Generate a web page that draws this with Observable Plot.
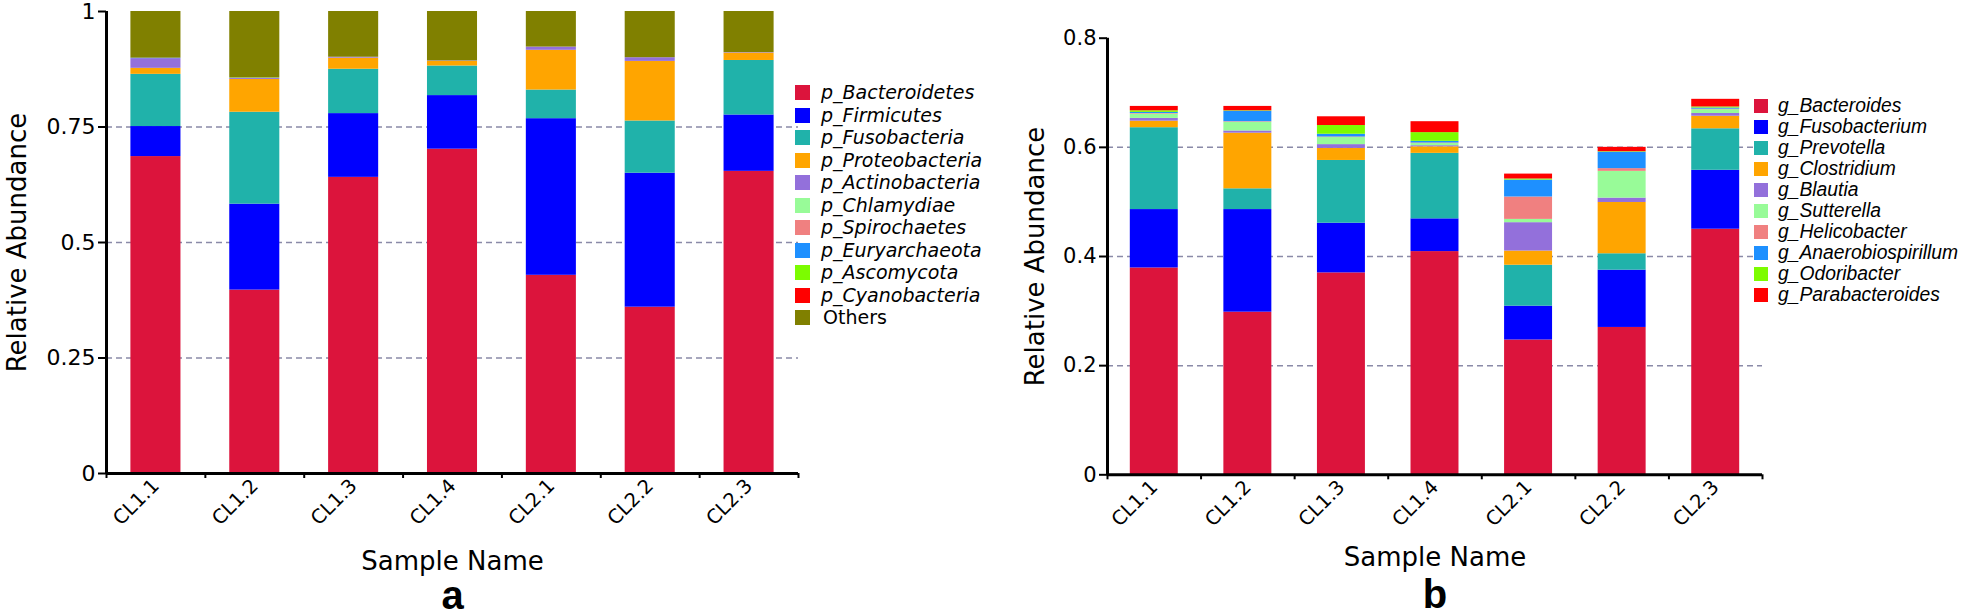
<!DOCTYPE html>
<html><head><meta charset="utf-8">
<script src="https://cdn.jsdelivr.net/npm/d3@7"></script>
<script src="https://cdn.jsdelivr.net/npm/@observablehq/plot@0.6"></script>
<style>
body{margin:0;background:#fff;}
#root{position:relative;width:1961px;height:615px;overflow:hidden;background:#fff;}
.panel{position:absolute;top:0;}
.row{position:absolute;display:flex;align-items:center;white-space:nowrap;color:#000;}
.sw{flex:none;}
.lt{display:inline-block;overflow:visible;}
</style></head><body><div id="root"></div>
<script>
// ---------- data ----------
const samples = ["CL1.1","CL1.2","CL1.3","CL1.4","CL2.1","CL2.2","CL2.3"];

// panel a : phylum level
const phyla = ["p_Bacteroidetes","p_Firmicutes","p_Fusobacteria","p_Proteobacteria","p_Actinobacteria","p_Chlamydiae","p_Spirochaetes","p_Euryarchaeota","p_Ascomycota","p_Cyanobacteria","Others"];
const phylumColors = ["#DC143C","#0000FF","#20B2AA","#FFA500","#9370DB","#98FB98","#F08080","#1E90FF","#7CFC00","#FF0000","#808000"];
const p_Bacteroidetes  = [0.686,0.397,0.641,0.702,0.429,0.360,0.654];
const p_Firmicutes     = [0.065,0.186,0.138,0.116,0.339,0.290,0.122];
const p_Fusobacteria   = [0.113,0.199,0.096,0.064,0.062,0.113,0.118];
const p_Proteobacteria = [0.013,0.071,0.024,0.010,0.086,0.129,0.016];
const p_Actinobacteria = [0.021,0.002,0.002,0.001,0.007,0.008,0.001];
const p_Chlamydiae     = [0.000,0.001,0.000,0.000,0.000,0.000,0.000];
const p_Spirochaetes   = [0.000,0.000,0.000,0.000,0.000,0.000,0.000];
const p_Euryarchaeota  = [0.001,0.000,0.000,0.000,0.000,0.000,0.000];
const p_Ascomycota     = [0.000,0.000,0.000,0.000,0.000,0.000,0.000];
const p_Cyanobacteria  = [0.000,0.000,0.000,0.000,0.000,0.000,0.000];
const p_Others         = [0.101,0.144,0.099,0.107,0.077,0.100,0.089];
const phylumSeries = [p_Bacteroidetes,p_Firmicutes,p_Fusobacteria,p_Proteobacteria,p_Actinobacteria,p_Chlamydiae,p_Spirochaetes,p_Euryarchaeota,p_Ascomycota,p_Cyanobacteria,p_Others];
const yTicksA = [0,0.25,0.5,0.75,1];
const gridA = [0.25,0.5,0.75];

// panel b : genus level
const genera = ["g_Bacteroides","g_Fusobacterium","g_Prevotella","g_Clostridium","g_Blautia","g_Sutterella","g_Helicobacter","g_Anaerobiospirillum","g_Odoribacter","g_Parabacteroides"];
const genusColors = ["#DC143C","#0000FF","#20B2AA","#FFA500","#9370DB","#98FB98","#F08080","#1E90FF","#7CFC00","#FF0000"];
const g_Bacteroides        = [0.379,0.298,0.370,0.409,0.247,0.270,0.450];
const g_Fusobacterium      = [0.107,0.188,0.091,0.060,0.062,0.105,0.108];
const g_Prevotella         = [0.150,0.038,0.115,0.120,0.075,0.030,0.076];
const g_Clostridium        = [0.012,0.102,0.022,0.012,0.026,0.094,0.023];
const g_Blautia            = [0.005,0.004,0.007,0.002,0.052,0.008,0.005];
const g_Sutterella         = [0.008,0.016,0.013,0.004,0.006,0.049,0.007];
const g_Helicobacter       = [0.001,0.001,0.001,0.001,0.041,0.005,0.001];
const g_Anaerobiospirillum = [0.002,0.019,0.005,0.003,0.031,0.030,0.002];
const g_Odoribacter        = [0.003,0.001,0.016,0.016,0.002,0.001,0.002];
const g_Parabacteroides    = [0.008,0.008,0.016,0.020,0.009,0.008,0.014];
const genusSeries = [g_Bacteroides,g_Fusobacterium,g_Prevotella,g_Clostridium,g_Blautia,g_Sutterella,g_Helicobacter,g_Anaerobiospirillum,g_Odoribacter,g_Parabacteroides];
const yTicksB = [0,0.2,0.4,0.6,0.8];
const gridB = [0.2,0.4,0.6];

// ---------- drawing ----------
const root = document.getElementById("root");
const tickFont = "'DejaVu Sans', sans-serif";

function makePanel(cfg) {
  const data = cfg.names.flatMap((name, k) => cfg.series[k].map((v, i) => ({sample: i, name, value: v})));
  const svg = Plot.plot({
    width: cfg.width, height: 615,
    marginLeft: cfg.ml, marginRight: cfg.mr, marginTop: cfg.mt, marginBottom: cfg.mb,
    x: {type: "linear", domain: [0, samples.length], axis: null},
    y: {domain: cfg.yDomain, axis: null},
    color: {domain: cfg.names, range: cfg.colors},
    style: {fontFamily: tickFont, fontSize: "22px", color: "#000", background: "transparent", overflow: "visible"},
    marks: [
      Plot.gridY(cfg.grid, {stroke: "#8a8aa8", strokeOpacity: 1, strokeDasharray: "6,4", strokeWidth: 1.5}),
      Plot.rectY(data, {x1: d => d.sample, x2: d => d.sample + 1, y: "value", fill: "name", insetLeft: cfg.inset, insetRight: cfg.inset}),
      Plot.ruleX([0], {stroke: "#000", strokeWidth: 3}),
      Plot.ruleY([0], {stroke: "#000", strokeWidth: 3}),
      Plot.axisY(cfg.yTicks, {tickFormat: d => String(d), tickSize: 8, tickPadding: 3, strokeWidth: 2, label: null, fontSize: cfg.tickSize}),
      Plot.axisX(d3.range(samples.length + 1), {tickFormat: () => "", tickSize: 5, strokeWidth: 2, label: null}),
      Plot.axisX(samples.map((s, i) => i + 0.5), {tickFormat: d => samples[Math.floor(d)], tickSize: 0, tickPadding: 9, tickRotate: -45, label: null, fontSize: 19.5}),
      Plot.text(["Relative Abundance"], {frameAnchor: "left", rotate: -90, textAnchor: "middle", lineAnchor: "bottom", dx: cfg.ytDx, fontSize: 26}),
      Plot.text(["Sample Name"], {frameAnchor: "bottom", textAnchor: "middle", lineAnchor: "bottom", dy: cfg.xtDy, fontSize: 26}),
      Plot.text([cfg.letter], {frameAnchor: "bottom", textAnchor: "middle", lineAnchor: "bottom", dy: cfg.letterDy, fontSize: 40, fontWeight: "bold", fontFamily: "'Liberation Sans', Arial, sans-serif"})
    ]
  });
  svg.classList.add("panel");
  svg.style.left = cfg.left + "px";
  root.appendChild(svg);
}

function makeLegend(cfg) {
  cfg.names.forEach((name, i) => {
    const row = document.createElement("div");
    row.className = "row";
    row.style.left = cfg.x + "px";
    row.style.top = (cfg.y0 + cfg.step * i - cfg.step / 2) + "px";
    row.style.height = cfg.step + "px";
    const sw = document.createElement("div");
    sw.className = "sw";
    sw.style.width = cfg.sw + "px";
    sw.style.height = cfg.sw + "px";
    sw.style.background = cfg.colors[i];
    sw.style.marginRight = cfg.gap + "px";
    const t = document.createElement("span");
    t.className = "lt";
    t.textContent = name;
    t.style.fontFamily = cfg.font;
    t.style.fontSize = cfg.fontSize + "px";
    t.style.lineHeight = cfg.fontSize + "px";
    t.style.height = cfg.fontSize + "px";
    t.style.fontStyle = name === "Others" ? "normal" : "italic";
    if (name === "Others") t.style.marginLeft = "2px";
    row.appendChild(sw);
    row.appendChild(t);
    root.appendChild(row);
  });
}

makePanel({names: phyla, colors: phylumColors, series: phylumSeries, yDomain: [0, 1], yTicks: yTicksA, grid: gridA,
  left: 0, width: 830, ml: 106, mr: 32, mt: 11, mb: 142, inset: 24.4, tickSize: 22,
  ytDx: -81, xtDy: 96, letter: "a", letterDy: 135});
makePanel({names: genera, colors: genusColors, series: genusSeries, yDomain: [0, 0.8], yTicks: yTicksB, grid: gridB,
  left: 1000, width: 961, ml: 107, mr: 199, mt: 37.7, mb: 140.7, inset: 22.8, tickSize: 21,
  ytDx: -64, xtDy: 91, letter: "b", letterDy: 133});

makeLegend({names: phyla, colors: phylumColors, x: 795, y0: 92.7, step: 22.5, sw: 15, gap: 11, font: "'DejaVu Sans', sans-serif", fontSize: 19});
makeLegend({names: genera, colors: genusColors, x: 1754, y0: 106, step: 21, sw: 14, gap: 10, font: "'Liberation Sans', Arial, sans-serif", fontSize: 19.3});
</script></body></html>
